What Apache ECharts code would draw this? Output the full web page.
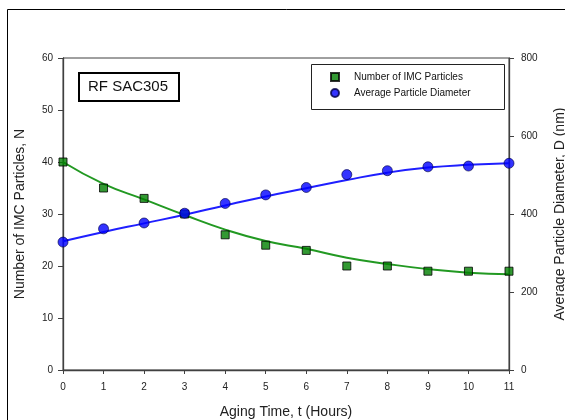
<!DOCTYPE html>
<html>
<head>
<meta charset="utf-8">
<script src="https://cdn.jsdelivr.net/npm/echarts@6/dist/echarts.min.js"></script>
<style>html,body{margin:0;padding:0;background:#fff;}#c{width:565px;height:420px;}</style>
</head>
<body>
<div id="c"></div>
<script>
// Data
const times = [0, 1, 2, 3, 4, 5, 6, 7, 8, 9, 10, 11];
const particleCount = [40, 35, 33, 30, 26, 24, 23, 20, 20, 19, 19, 19];
const particleDiameter = [328, 362, 377, 402, 427, 449, 468, 501, 511, 521, 523, 530];
const countTrend = [40, 35.8, 32.8, 29.8, 27.0, 24.8, 23.3, 21.6, 20.4, 19.4, 18.7, 18.4];
const diameterTrend = [330, 354, 376, 398, 422, 445, 466, 487, 506, 519, 526, 530];
const xTicks = [0, 11, 1];
const leftTicks = [0, 60, 10];
const rightTicks = [0, 800, 200];

const FONT = 'Liberation Sans, Arial, sans-serif';
const axisLine = { show: true, lineStyle: { color: '#404040', width: 1.3 } };
const tickLabel = { color: '#222', fontSize: 10, fontFamily: FONT };

const chart = echarts.init(document.getElementById('c'), null, { renderer: 'canvas' });
chart.setOption({
  animation: false,
  backgroundColor: '#fff',
  grid: { left: 63, right: 56, top: 58, bottom: 50, containLabel: false, outerBoundsMode: 'none', show: true, borderColor: '#404040', borderWidth: 1 },
  legend: {
    orient: 'vertical',
    left: 330, top: 71,
    padding: 0,
    itemGap: 4,
    itemWidth: 8, itemHeight: 8,
    textStyle: { fontSize: 10, fontFamily: FONT, color: '#111', padding: [0, 0, 0, 10], lineHeight: 12 },
    data: [
      { name: 'Number of IMC Particles', icon: 'rect' },
      { name: 'Average Particle Diameter', icon: 'circle' }
    ]
  },
  xAxis: {
    type: 'value', min: xTicks[0], max: xTicks[1], interval: xTicks[2],
    axisLine: axisLine,
    axisTick: { show: true, length: 4, inside: false, lineStyle: { color: '#404040' } },
    axisLabel: Object.assign({ margin: 12 }, tickLabel),
    splitLine: { show: false },
    name: 'Aging Time, t (Hours)', nameLocation: 'middle', nameGap: 35,
    nameTextStyle: { fontSize: 14, fontFamily: FONT, color: '#222' }
  },
  yAxis: [
    {
      type: 'value', min: leftTicks[0], max: leftTicks[1], interval: leftTicks[2], position: 'left',
      axisLine: axisLine,
      axisTick: { show: true, length: 5, lineStyle: { color: '#404040' } },
      axisLabel: Object.assign({ margin: 10 }, tickLabel),
      splitLine: { show: false },
      name: 'Number of IMC Particles, N', nameLocation: 'middle', nameGap: 36, nameRotate: 90,
      nameTextStyle: { fontSize: 14, fontFamily: FONT, color: '#222' }
    },
    {
      type: 'value', min: rightTicks[0], max: rightTicks[1], interval: rightTicks[2], position: 'right',
      axisLine: axisLine,
      axisTick: { show: true, length: 5, lineStyle: { color: '#404040' } },
      axisLabel: Object.assign({ margin: 12 }, tickLabel),
      splitLine: { show: false },
      name: 'Average Particle Diameter, D (nm)', nameLocation: 'middle', nameGap: 44, nameRotate: 90,
      nameTextStyle: { fontSize: 14, fontFamily: FONT, color: '#222' }
    }
  ],
  series: [
    {
      name: 'N trend', type: 'line', yAxisIndex: 0, smooth: true, showSymbol: false, silent: true,
      data: times.map((t, i) => [t, countTrend[i]]),
      lineStyle: { color: '#229922', width: 2 }, z: 2
    },
    {
      name: 'D trend', type: 'line', yAxisIndex: 1, smooth: true, showSymbol: false, silent: true,
      data: times.map((t, i) => [t, diameterTrend[i]]),
      lineStyle: { color: '#1f1fff', width: 2 }, z: 2
    },
    {
      name: 'Number of IMC Particles', type: 'scatter', yAxisIndex: 0, symbol: 'rect', symbolSize: 8,
      data: times.map((t, i) => [t, particleCount[i]]),
      itemStyle: { color: '#008000', borderColor: '#000', borderWidth: 1 }, z: 3
    },
    {
      name: 'Average Particle Diameter', type: 'scatter', yAxisIndex: 1, symbol: 'circle', symbolSize: 10,
      data: times.map((t, i) => [t, particleDiameter[i]]),
      itemStyle: { color: '#0000ff', borderColor: '#000044', borderWidth: 0.8 }, z: 3
    }
  ],
  graphic: [
    { type: 'rect', shape: { x: 7.5, y: 9.5, width: 700, height: 600 }, style: { fill: 'none', stroke: '#000', lineWidth: 1 }, silent: true },
    { type: 'rect', shape: { x: 311.5, y: 64.5, width: 193, height: 45 }, style: { fill: 'none', stroke: '#222', lineWidth: 1 }, silent: true },
    { type: 'rect', shape: { x: 79, y: 73, width: 100, height: 28 }, style: { fill: '#fff', stroke: '#000', lineWidth: 2 }, silent: true },
    { type: 'text', x: 88, y: 87, style: { text: 'RF SAC305', fontSize: 15, fontFamily: FONT, fill: '#111', verticalAlign: 'middle' }, silent: true }
  ]
});
</script>
</body>
</html>
